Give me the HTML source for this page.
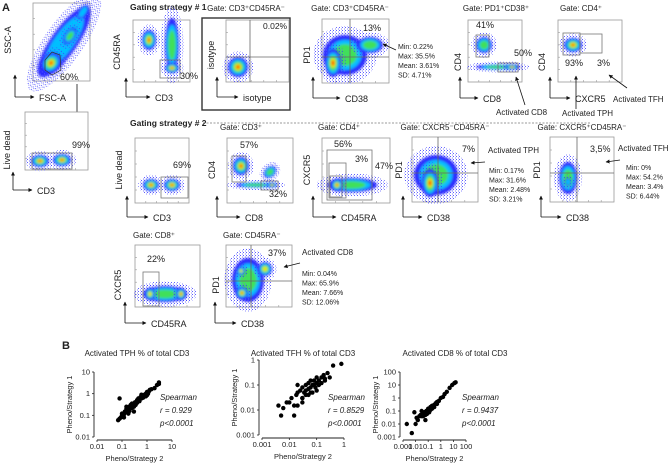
<!DOCTYPE html>
<html><head><meta charset="utf-8"><style>
html,body{margin:0;padding:0;background:#fff;}
svg{display:block;font-family:"Liberation Sans",sans-serif;}
text{fill:#222;}
</style></head><body>
<svg id="fig" width="669" height="472" viewBox="0 0 669 472">
<defs>
<marker id="ah" viewBox="0 0 10 10" refX="9" refY="5" markerWidth="5" markerHeight="5" orient="auto"><path d="M0,0L10,5L0,10z" fill="#111"/></marker>
<filter id="bl" x="-50%" y="-50%" width="200%" height="200%"><feGaussianBlur stdDeviation="1.2"/></filter>
<pattern id="speck" width="3" height="3" patternUnits="userSpaceOnUse"><rect x="0" y="0" width="1" height="1" fill="#3a3aff"/><rect x="2" y="1.5" width="1" height="1" fill="#6a6aff"/></pattern>
</defs>
<g id="flow"></g>
<g id="panelb"></g>
</svg>
<script>
// ===== Panel B data =====
const tphX=[0.07,0.08,0.09,0.1,0.1,0.12,0.13,0.15,0.15,0.17,0.18,0.2,0.2,0.22,0.25,0.25,0.28,0.3,0.3,0.33,0.35,0.4,0.4,0.45,0.5,0.5,0.55,0.6,0.7,0.8,0.9,1.0,1.1,1.2,1.5,2.0,2.5,3.0,3.0,0.08,0.12,0.3,0.6,0.15,0.2,0.25,0.35,0.45,0.7,1.0,1.3,0.18,0.22,0.4,0.9];
const tphY=[0.06,0.07,0.08,0.1,0.12,0.11,0.15,0.14,0.2,0.18,0.22,0.2,0.25,0.28,0.22,0.3,0.3,0.35,0.25,0.4,0.35,0.45,0.5,0.5,0.6,0.45,0.7,0.6,0.8,0.9,1.0,1.2,1.0,1.3,1.6,1.8,2.5,2.8,3.3,0.6,0.08,0.15,0.9,0.25,0.16,0.35,0.3,0.6,0.65,0.85,1.5,0.12,0.3,0.38,0.75];
const tfhX=[0.004,0.005,0.006,0.008,0.01,0.012,0.015,0.018,0.02,0.02,0.025,0.03,0.03,0.035,0.04,0.04,0.05,0.05,0.06,0.07,0.08,0.09,0.1,0.1,0.12,0.15,0.18,0.2,0.25,0.3,0.4,0.8,0.02,0.015,0.06,0.03,0.1,0.04,0.05,0.07,0.08,0.12,0.15,0.2,0.03,0.06];
const tfhY=[0.015,0.006,0.012,0.02,0.02,0.03,0.006,0.04,0.015,0.05,0.06,0.03,0.08,0.05,0.04,0.1,0.07,0.12,0.08,0.1,0.15,0.08,0.12,0.2,0.15,0.2,0.25,0.15,0.3,0.2,0.6,0.7,0.1,0.015,0.05,0.03,0.06,0.06,0.04,0.05,0.1,0.1,0.12,0.18,0.02,0.15];
const cd8X=[0.002,0.005,0.008,0.01,0.012,0.015,0.02,0.025,0.03,0.04,0.05,0.06,0.07,0.08,0.1,0.1,0.12,0.15,0.2,0.25,0.3,0.4,0.5,0.7,1.0,1.5,2,3,5,8,12,15,0.06,0.03,0.2,0.04,0.05,0.08,0.12,0.15,0.3,0.5];
const cd8Y=[0.01,0.002,0.08,0.01,0.03,0.02,0.04,0.05,0.04,0.06,0.08,0.05,0.1,0.08,0.12,0.15,0.1,0.2,0.25,0.2,0.3,0.4,0.5,0.6,1.0,1.2,2,3,6,10,14,16,0.02,0.1,0.15,0.04,0.06,0.06,0.08,0.12,0.2,0.35];
const p1Ticks=["0.01","0.1","1","10"], p2Ticks=["0.001","0.01","0.1","1"], p3Ticks=["0.001","0.01","0.1","1","10","100"];
const stats1=["Min: 0.22%","Max: 35.5%","Mean: 3.61%","SD: 4.71%"];
const stats2=["Min: 0.17%","Max: 31.6%","Mean: 2.48%","SD: 3.21%"];
const stats3=["Min: 0%","Max: 54.2%","Mean: 3.4%","SD: 6.44%"];
const stats4=["Min: 0.04%","Max: 65.9%","Mean: 7.66%","SD: 12.06%"];

const NS="http://www.w3.org/2000/svg";
const flow=document.getElementById('flow'), pb=document.getElementById('panelb');
function el(p,tag,a,txt){const e=document.createElementNS(NS,tag);for(const k in a)e.setAttribute(k,a[k]);if(txt!==undefined)e.textContent=txt;p.appendChild(e);return e;}
function T(p,x,y,s,size,extra){const a=Object.assign({x:x,y:y,'font-size':size||8},extra||{});const t=el(p,'text',a,s);return t;}
function blob(p,cx,cy,rx,ry,rot,hot){
 const g=el(p,'g',{transform:`rotate(${rot||0} ${cx} ${cy})`});
 el(g,'ellipse',{cx:cx,cy:cy,rx:rx*1.35+2,ry:ry*1.35+2,fill:'url(#speck)',opacity:0.8});
 const g2=el(g,'g',{filter:'url(#bl)'});
 const cols=['#2a2aff','#00bfff','#3fe05a','#e8e800','#ff2a00'];
 const sc=[1,0.75,0.55,0.35,0.18];
 const n=hot===undefined?5:hot;
 for(let i=0;i<n;i++) el(g2,'ellipse',{cx:cx,cy:cy,rx:rx*sc[i],ry:ry*sc[i],fill:cols[i]});
 return g;
}
function box(x,y,w,h,name){const r=el(flow,'rect',{x:x,y:y,width:w,height:h,fill:'#fff',stroke:'#999','stroke-width':0.8});
 
 
 for(let i=1;i<5;i++){el(flow,'line',{x1:x,x2:x+2,y1:y+h*i/5,y2:y+h*i/5,stroke:'#999','stroke-width':0.6});el(flow,'line',{x1:x+w*i/5,x2:x+w*i/5,y1:y+h,y2:y+h-2,stroke:'#999','stroke-width':0.6});}
}
function axes(x0,yTop,yBot,xEnd,ylab,xlab,ylx,ylyc){
 el(flow,'line',{x1:x0,y1:yBot,x2:x0,y2:yTop,stroke:'#111','stroke-width':0.8,'marker-end':'url(#ah)'});
 el(flow,'line',{x1:x0,y1:yBot,x2:xEnd,y2:yBot,stroke:'#111','stroke-width':0.8,'marker-end':'url(#ah)'});
 T(flow,xEnd+5,yBot+4,xlab,9);
 T(flow,ylx,ylyc,ylab,9,{transform:`rotate(-90 ${ylx} ${ylyc})`,'text-anchor':'middle'});
}
function gate(x,y,w,h){el(flow,'rect',{x:x,y:y,width:w,height:h,fill:'none',stroke:'#777','stroke-width':0.8});}
function quad(x,y,w,h,vx,hy){el(flow,'line',{x1:vx,x2:vx,y1:y,y2:y+h,stroke:'#666','stroke-width':0.8});el(flow,'line',{x1:x,x2:x+w,y1:hy,y2:hy,stroke:'#666','stroke-width':0.8});}
function arrow(x1,y1,x2,y2){el(flow,'line',{x1:x1,y1:y1,x2:x2,y2:y2,stroke:'#111','stroke-width':0.8,'marker-end':'url(#ah)'});}
function stats(x,y,arr){arr.forEach((s,i)=>T(flow,x,y+i*9.5,s,7));}

T(flow,2,11,'A',11,{'font-weight':'bold'});
box(33,3,57,78,'fsc-ssc-plot');
blob(flow,64,42,42,13,-55,2); blob(flow,51,63,11,9,-50); blob(flow,70,36,9,5,-55,3); blob(flow,83,12,8,4,-55,2);
el(flow,'path',{d:'M45,60 L52,52 L60,55 L61,70 L52,75 L45,70Z',fill:'none',stroke:'#333','stroke-width':0.7});
T(flow,60,80,'60%',9);
axes(15,75,97,34,'SSC-A','FSC-A',11,40);
arrow(77,84,77,117);
box(25,112,63,58,'live-dead-plot');
blob(flow,40,161,9,6,0); blob(flow,62,160,9,6,0);
gate(32,153,40,16); T(flow,72,148,'99%',9);
axes(13,172,190,32,'Live dead','CD3',10,150);
T(flow,130,10,'Gating strategy # 1',8.5,{'font-weight':'bold'});
box(133,20,57,62,'cd45ra-cd3-plot');
blob(flow,149,40,7,10,0); blob(flow,172,45,7,27,0,3); blob(flow,172,68,7,5,0);
gate(160,60,20,18); T(flow,180,79,'30%',9);
axes(126,78,97,150,'CD45RA','CD3',120,52);
el(flow,'rect',{x:202,y:18,width:88,height:92,fill:'none',stroke:'#333','stroke-width':1.4});
T(flow,246,11,'Gate: CD3\u207ACD45RA\u207B',8,{'text-anchor':'middle'});
box(226,20,63,62,'isotype-plot');
blob(flow,238,67,10,10,0); quad(226,20,63,62,250,57); T(flow,263,29,'0.02%',8.5);
axes(217,77,97,238,'isotype','isotype',214,55);
T(flow,350,11,'Gate: CD3\u207ACD45RA\u207B',8,{'text-anchor':'middle'});
box(322,19,67,64,'pd1-cd38-plot');
blob(flow,345,55,22,20,0,3); blob(flow,333,63,8,14,0); blob(flow,370,45,13,8,0,3);
quad(322,19,67,64,350,57); T(flow,363,31,'13%',9);
arrow(396,50,383,44); stats(398,49,stats1);
axes(313,77,98,340,'PD1','CD38',310,55);
T(flow,496,11,'Gate: PD1\u207ACD38\u207A',8,{'text-anchor':'middle'});
box(468,20,54,62,'cd4-cd8-plot');
blob(flow,484,45,8,8,0,3); blob(flow,498,67,22,2.5,0,3); blob(flow,512,67,7,2.5,0);
gate(476,35,13,22); gate(498,63,20,9);
T(flow,476,28,'41%',9); T(flow,514,56,'50%',9);
axes(460,77,98,478,'CD4','CD8',461,62);
arrow(525,105,516,77); T(flow,496,115,'Activated CD8',8);
T(flow,560,11,'Gate: CD4\u207A',8);
box(558,20,64,62,'cd4-cxcr5-plot');
blob(flow,573,45,9,7,0);
gate(563,33,17,22); gate(580,34,22,19);
T(flow,565,66,'93%',9); T(flow,597,66,'3%',9);
axes(550,77,98,570,'CD4','CXCR5',545,62);
arrow(576,109,576,76); T(flow,562,116,'Activated TPH',8);
arrow(627,88,609,75); T(flow,613,102,'Activated TFH',8);
T(flow,130,126,'Gating strategy # 2',8.5,{'font-weight':'bold'});
el(flow,'line',{x1:203,x2:590,y1:123,y2:123,stroke:'#777','stroke-width':0.7,'stroke-dasharray':'2,1.5'});
box(135,138,54,65,'live-dead-cd3-plot');
blob(flow,151,185,8,6,0); blob(flow,172,185,8,6,0);
gate(161,177,27,21); T(flow,173,168,'69%',9);
axes(127,196,217,148,'Live dead','CD3',122,170);
T(flow,220,130,'Gate: CD3\u207A',8);
box(227,138,66,65,'cd4-cd8-plot-2');
blob(flow,241,166,8,9,0); blob(flow,256,185,20,2.5,0,3); blob(flow,272,185,5,2.5,0); blob(flow,270,172,7,5,-40,3);
gate(232,156,14,26); gate(261,181,17,9);
T(flow,240,148,'57%',9); T(flow,269,197,'32%',9);
axes(217,196,217,240,'CD4','CD8',215,170);
T(flow,318,130,'Gate: CD4\u207A',8);
box(322,138,68,65,'cxcr5-cd45ra-plot');
blob(flow,352,185,25,7,0,3); blob(flow,337,185,6,6,0);
gate(327,150,45,50); gate(329,163,17,35); gate(330,176,12,21);
T(flow,334,147,'56%',9); T(flow,355,162,'3%',9); T(flow,375,169,'47%',9);
axes(313,196,217,336,'CXCR5','CD45RA',310,170);
T(flow,445,130,'Gate: CXCR5\u207BCD45RA\u207B',8,{'text-anchor':'middle'});
box(412,137,66,65,'pd1-cd38-tph-plot');
blob(flow,436,175,22,20,0,3); blob(flow,430,183,8,14,0);
quad(412,137,66,65,438,173); T(flow,462,152,'7%',9);
arrow(485,162,471,163); T(flow,488,153,'Activated TPH',8);
stats(489,173,stats2);
axes(403,196,217,422,'PD1','CD38',402,170);
T(flow,582,130,'Gate: CXCR5\u207ACD45RA\u207B',8,{'text-anchor':'middle'});
box(550,137,64,65,'pd1-cd38-tfh-plot');
blob(flow,568,178,9,16,0,3); blob(flow,568,182,3,4,0,2);
quad(550,137,64,65,577,173); T(flow,590,152,'3,5%',9);
arrow(620,160,606,162); T(flow,618,151,'Activated TFH',8);
stats(626,170,stats3);
axes(541,196,217,561,'PD1','CD38',540,170);
T(flow,133,238,'Gate: CD8\u207A',8);
box(135,245,65,62,'cxcr5-cd45ra-cd8-plot');
blob(flow,165,294,22,8,0,3); blob(flow,181,294,5,6,0); blob(flow,150,294,5,6,0,4);
gate(143,272,16,34); T(flow,147,262,'22%',9);
axes(125,302,323,146,'CXCR5','CD45RA',121,285);
T(flow,223,238,'Gate: CD45RA\u207B',8);
box(226,245,66,62,'pd1-cd38-cd8-plot');
blob(flow,248,280,16,22,0,3); blob(flow,242,293,6,6,0); blob(flow,265,269,7,7,0,4); blob(flow,241,271,4,4,0,4);
quad(226,245,66,62,251,281); T(flow,268,256,'37%',9);
arrow(300,263,284,267); T(flow,302,255,'Activated CD8',8);
stats(302,276,stats4);
axes(215,302,323,236,'PD1','CD38',219,285);

T(pb,62,349,'B',11,{'font-weight':'bold'});
function scatter(cfg){
 const {xs,ys,xMinExp,xMaxExp,yMinExp,yMaxExp,x0,x1,y0,y1,xt,yt,title,tx,sp,r,p,name}=cfg;
 const g=el(pb,'g',{});
 
 
 const sx=v=>x0+(Math.log10(v)-xMinExp)/(xMaxExp-xMinExp)*(x1-x0);
 const sy=v=>y0-(Math.log10(v)-yMinExp)/(yMaxExp-yMinExp)*(y0-y1);
 T(g,tx,356,title,8,{'text-anchor':'middle'});
 el(g,'line',{x1:x0-3,x2:x0-3,y1:y1,y2:y0,stroke:'#222','stroke-width':0.9});
 el(g,'line',{x1:x0,x2:x1,y1:y0+3,y2:y0+3,stroke:'#222','stroke-width':0.9});
 yt.forEach((s,i)=>{const yy=sy(Math.pow(10,yMinExp+i));el(g,'line',{x1:x0-5,x2:x0-3,y1:yy,y2:yy,stroke:'#222','stroke-width':0.8});T(g,x0-7,yy+2.5,s,7.5,{'text-anchor':'end'});});
 xt.forEach((s,i)=>{const xx=sx(Math.pow(10,xMinExp+i));el(g,'line',{x1:xx,x2:xx,y1:y0+3,y2:y0+5,stroke:'#222','stroke-width':0.8});T(g,xx,y0+12,s,7.5,{'text-anchor':'middle'});});
 T(g,(x0+x1)/2,y0+24,'Pheno/Strategy 2',7.5,{'text-anchor':'middle'});
 const ly=(y0+y1)/2;T(g,x0-25,ly,'Pheno/Strategy 1',7.5,{'text-anchor':'middle',transform:`rotate(-90 ${x0-25} ${ly})`});
 xs.forEach((v,i)=>{const c=el(g,'circle',{cx:sx(v),cy:sy(ys[i]),r:2.2,fill:'#000'});
  
  });
 T(g,sp,400,'Spearman',8,{'font-style':'italic'});
 T(g,sp,413,r,8,{'font-style':'italic'});
 T(g,sp,426,p,8,{'font-style':'italic'});
}
scatter({name:'tph-correlation',xs:tphX,ys:tphY,xMinExp:-2,xMaxExp:1,yMinExp:-2,yMaxExp:1,x0:97,x1:172,y0:437,y1:372,xt:p1Ticks,yt:p1Ticks,title:'Activated TPH % of total CD3',tx:137,sp:160,r:'r = 0.929',p:'p<0.0001'});
scatter({name:'tfh-correlation',xs:tfhX,ys:tfhY,xMinExp:-3,xMaxExp:0,yMinExp:-3,yMaxExp:0,x0:262,x1:344,y0:435,y1:360,xt:p2Ticks,yt:p2Ticks,title:'Activated TFH %  of total CD3',tx:303,sp:328,r:'r = 0.8529',p:'p<0.0001'});
scatter({name:'cd8-correlation',xs:cd8X,ys:cd8Y,xMinExp:-3,xMaxExp:2,yMinExp:-3,yMaxExp:2,x0:403,x1:466,y0:437,y1:372,xt:p3Ticks,yt:p3Ticks,title:'Activated CD8 % of total CD3',tx:455,sp:462,r:'r = 0.9437',p:'p<0.0001'});
</script>
</body></html>
